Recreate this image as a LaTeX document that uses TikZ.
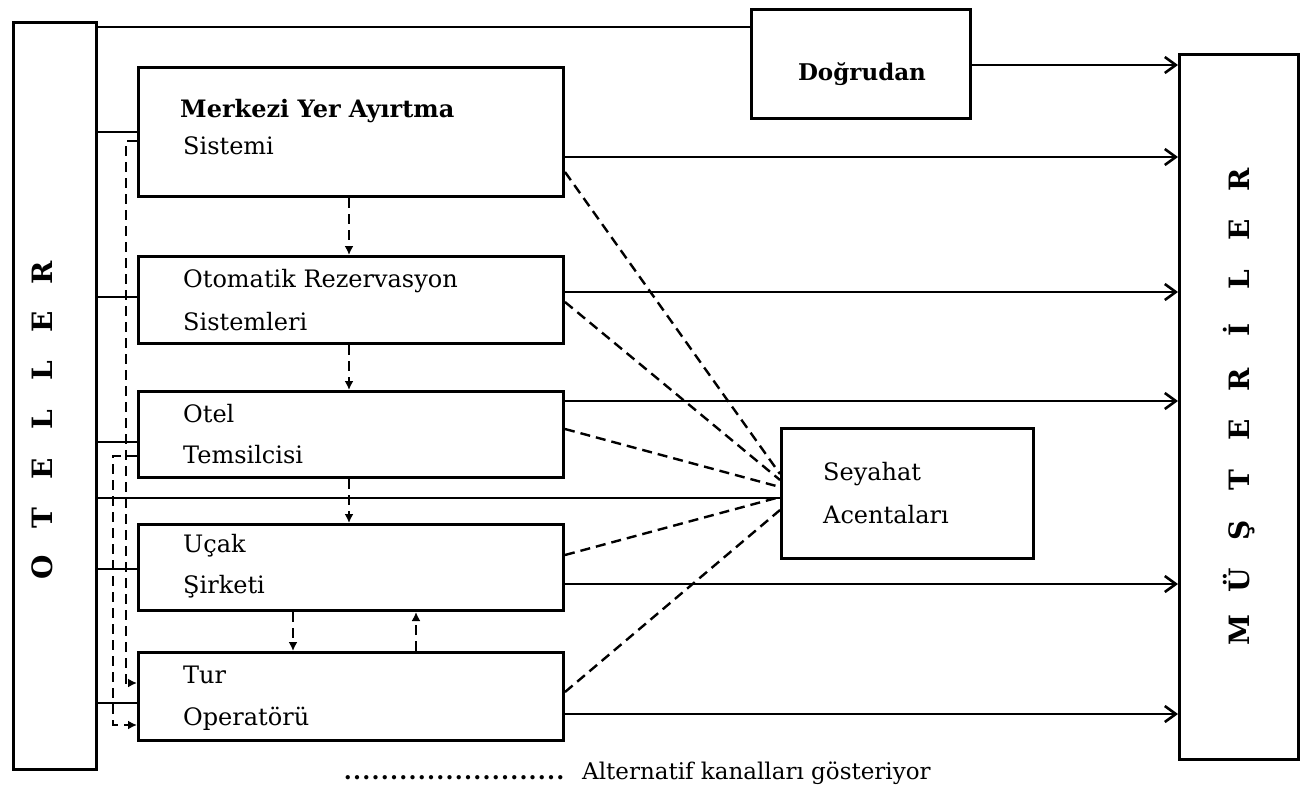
\documentclass[tikz,border=0pt]{standalone}
\usepackage{fontspec}
\setmainfont{DejaVu Serif}
\usetikzlibrary{arrows.meta}
\newcommand\sidelt[1]{\makebox[49pt]{#1}}
\newcommand\sideltw[1]{\makebox[50pt]{#1}}
\begin{document}
\begin{tikzpicture}[x=1pt,y=-1pt,
  box/.style={draw, line width=3pt, inner sep=0pt, anchor=north west},
  conn/.style={line width=2.4pt},
  alt/.style={line width=2.4pt, dash pattern=on 10pt off 6pt},
  toC/.style={conn, -{Straight Barb[length=11pt,width=16pt,line width=2.6pt]}},
  altarr/.style={alt, -{Latex[length=9pt,width=9pt]}},
  lbl/.style={anchor=base west, inner sep=0pt, font=\fontsize{24}{28}\selectfont},
  side/.style={rotate=90, anchor=base, inner sep=0pt, font=\fontsize{28}{30}\selectfont\bfseries}
]
\useasboundingbox (0,0) rectangle (1313,806);

% boxes
\node[box, minimum width=83pt,  minimum height=747pt] (oteller) at (12,21) {};
\node[box, minimum width=119pt, minimum height=705pt] (mus) at (1178,53) {};
\node[box, minimum width=219pt, minimum height=109pt] (dog) at (750,8) {};
\node[box, minimum width=425pt, minimum height=129pt] (mys) at (137,66) {};
\node[box, minimum width=425pt, minimum height=87pt]  (ors) at (137,255) {};
\node[box, minimum width=425pt, minimum height=86pt]  (tem) at (137,390) {};
\node[box, minimum width=425pt, minimum height=86pt]  (ucak) at (137,523) {};
\node[box, minimum width=425pt, minimum height=88pt]  (tur) at (137,651) {};
\node[box, minimum width=252pt, minimum height=130pt] (acn) at (780,427) {};

% box texts
\node[lbl, font=\fontsize{24}{28}\selectfont\bfseries] (mys1) at (180,117) {Merkezi Yer Ayırtma};
\node[lbl] (mys2) at (183,154) {Sistemi};
\node[lbl] (ors1) at (183,287) {Otomatik Rezervasyon};
\node[lbl] (ors2) at (183,330) {Sistemleri};
\node[lbl] (tem1) at (183,422) {Otel};
\node[lbl] (tem2) at (183,463) {Temsilcisi};
\node[lbl] (ucak1) at (183,552) {Uçak};
\node[lbl] (ucak2) at (183,593) {Şirketi};
\node[lbl] (tur1) at (183,683) {Tur};
\node[lbl] (tur2) at (183,725) {Operatörü};
\node[lbl] (acn1) at (823,480) {Seyahat};
\node[lbl] (acn2) at (823,523) {Acentaları};
\node[lbl, anchor=base, font=\fontsize{23}{28}\selectfont\bfseries] (dog1) at (862,80) {Doğrudan};

% vertical side labels
\node[side] (otl) at (52,420) {\sidelt{O}\sidelt{T}\sidelt{E}\sidelt{L}\sidelt{L}\sidelt{E}\sidelt{R}};
\node[side] (mst) at (1249,405) {\sideltw{M}\sideltw{Ü}\sideltw{Ş}\sideltw{T}\sideltw{E}\sideltw{R}\sideltw{İ}\sideltw{L}\sideltw{E}\sideltw{R}};

% hotels to channels
\draw[conn] (oteller.east |- 0,27)  -- (dog.west |- 0,27);
\draw[conn] (oteller.east |- 0,132) -- (mys.west |- 0,132);
\draw[conn] (oteller.east |- 0,297) -- (ors.west |- 0,297);
\draw[conn] (oteller.east |- 0,442) -- (tem.west |- 0,442);
\draw[conn] (oteller.east |- 0,498) -- (acn.west |- 0,498);
\draw[conn] (oteller.east |- 0,569) -- (ucak.west |- 0,569);
\draw[conn] (oteller.east |- 0,703) -- (tur.west |- 0,703);

% channels to customers
\draw[toC] (dog.east |- 0,65)   -- (mus.west |- 0,65);
\draw[toC] (mys.east |- 0,157)  -- (mus.west |- 0,157);
\draw[toC] (ors.east |- 0,292)  -- (mus.west |- 0,292);
\draw[toC] (tem.east |- 0,401)  -- (mus.west |- 0,401);
\draw[toC] (ucak.east |- 0,584) -- (mus.west |- 0,584);
\draw[toC] (tur.east |- 0,714)  -- (mus.west |- 0,714);

% alternative links to travel agencies
\draw[alt] (mys.east |- 0,172)  -- (acn.west |- 0,474);
\draw[alt] (ors.east |- 0,302)  -- (acn.west |- 0,480);
\draw[alt] (tem.east |- 0,429)  -- (acn.west |- 0,487);
\draw[alt] (ucak.east |- 0,555) -- (acn.west |- 0,497);
\draw[alt] (tur.east |- 0,692)  -- (acn.west |- 0,510);

% alternative links between channels
\draw[altarr] (mys.south -| 349,0)  -- (ors.north -| 349,0);
\draw[altarr] (ors.south -| 349,0)  -- (tem.north -| 349,0);
\draw[altarr] (tem.south -| 349,0)  -- (ucak.north -| 349,0);
\draw[altarr] (ucak.south -| 293,0) -- (tur.north -| 293,0);
\draw[altarr] (tur.north -| 416,0)  -- (ucak.south -| 416,0);

% alternative links down the left side
\draw[altarr] (mys.west |- 0,141) -- (126,141) -- (126,683) -- (tur.west |- 0,683);
\draw[altarr] (tem.west |- 0,456) -- (113,456) -- (113,725) -- (tur.west |- 0,725);

% legend
\node[anchor=base west, inner sep=0pt, font=\fontsize{23}{26}\selectfont] (leg) at (343,779)
  {\hbox to 222pt{\bfseries\xleaders\hbox to 9.25pt{\hss.\hss}\hfill}\hspace{17pt}Alternatif kanalları gösteriyor};
\end{tikzpicture}
\end{document}
